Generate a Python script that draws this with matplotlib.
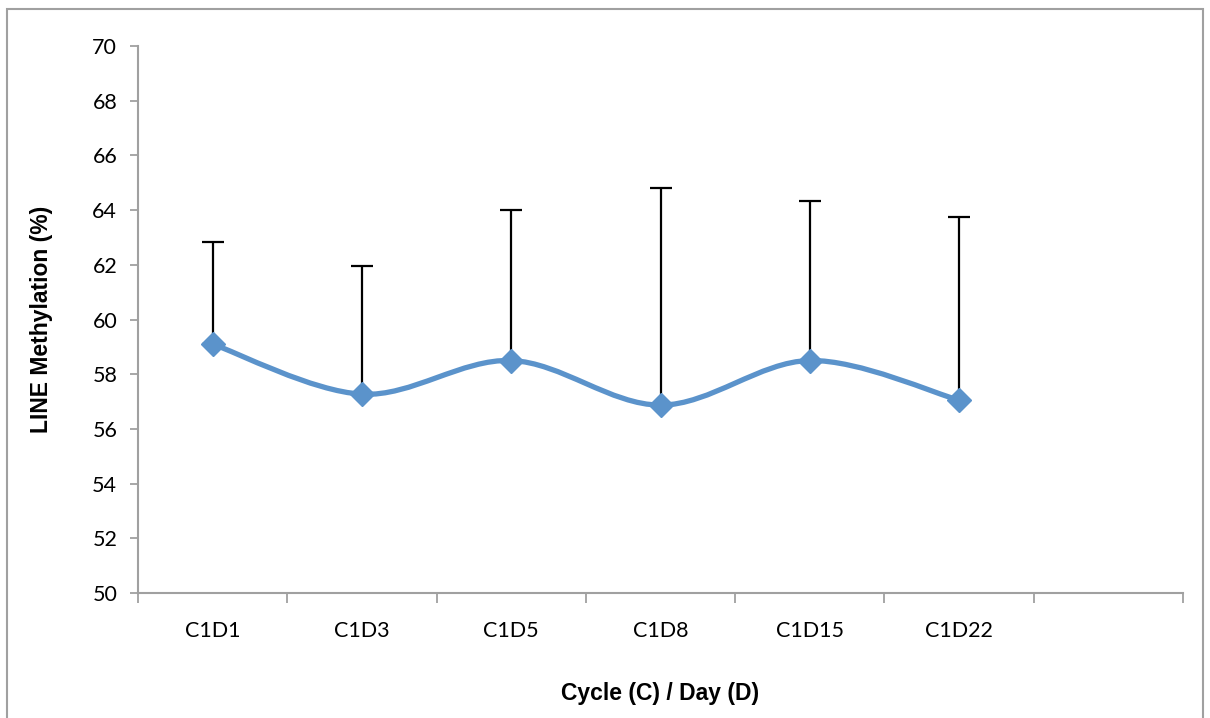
import matplotlib
matplotlib.use("Agg")
import matplotlib.pyplot as plt
from matplotlib.path import Path
from matplotlib.patches import PathPatch, Rectangle
import numpy as np

# data
days = ["C1D1", "C1D3", "C1D5", "C1D8", "C1D15", "C1D22"]
methylation = [59.1, 57.27, 58.5, 56.87, 58.5, 57.05]
err_upper = [3.72, 4.7, 5.5, 7.93, 5.84, 6.71]
n_slots = 7  # Excel axis leaves one empty category at the end

blue = "#5B93CB"
grey = "#A0A0A0"

fig = plt.figure(figsize=(12.1, 7.18), dpi=100)
fig.patches.append(Rectangle((7/1210, -0.05), 1196/1210, 1.05 - 9/718, transform=fig.transFigure,
                             fill=False, edgecolor=grey, linewidth=1.5))
ax = fig.add_axes([138/1210, 1 - 593/718, 1045/1210, 547/718])

x = np.arange(len(days))
y = np.array(methylation)

# smoothed line (cardinal spline as Bezier segments)
t = 1/6
verts = [(x[0], y[0])]
codes = [Path.MOVETO]
for i in range(len(x) - 1):
    p0 = np.array([x[max(i-1, 0)], y[max(i-1, 0)]])
    p1 = np.array([x[i], y[i]])
    p2 = np.array([x[i+1], y[i+1]])
    p3 = np.array([x[min(i+2, len(x)-1)], y[min(i+2, len(x)-1)]])
    c1 = p1 + (p2 - p0) * t
    c2 = p2 - (p3 - p1) * t
    verts += [tuple(c1), tuple(c2), tuple(p2)]
    codes += [Path.CURVE4] * 3
ax.add_patch(PathPatch(Path(verts, codes), facecolor="none", edgecolor=blue,
                       linewidth=3.8, capstyle="round", zorder=2))

ax.errorbar(x, y, yerr=[np.zeros(len(y)), err_upper], fmt="none", ecolor="black",
            elinewidth=1.6, capsize=8, capthick=1.6, zorder=1)
ax.plot(x, y, linestyle="none", marker="D", markersize=12, color=blue, zorder=3)

ax.set_xlim(-0.5, n_slots - 0.5)
ax.set_ylim(50, 70)
ax.set_yticks(np.arange(50, 71, 2))
ax.set_xticks(x)
ax.set_xticklabels(days)
ax.set_xticks(np.arange(-0.5, n_slots, 1), minor=True)
ax.tick_params(axis="x", which="major", length=0, pad=20, labelsize=15.5)
ax.tick_params(axis="x", which="minor", length=7, width=1.3, color=grey, direction="out")
ax.tick_params(axis="y", length=6, width=1.3, color=grey, labelsize=15.5, pad=9)
for lab in ax.get_xticklabels() + ax.get_yticklabels():
    lab.set_fontfamily("Lato")

for s in ["top", "right"]:
    ax.spines[s].set_visible(False)
for s in ["left", "bottom"]:
    ax.spines[s].set_color(grey)
    ax.spines[s].set_linewidth(1.5)

ax.set_xlabel("Cycle (C) / Day (D)", fontfamily="Liberation Sans", fontweight="bold",
              fontsize=16.5, labelpad=30)
ax.set_ylabel("LINE Methylation (%)", fontfamily="Liberation Sans", fontweight="bold",
              fontsize=16.5, labelpad=28)

fig.savefig("out.png", dpi=100)
